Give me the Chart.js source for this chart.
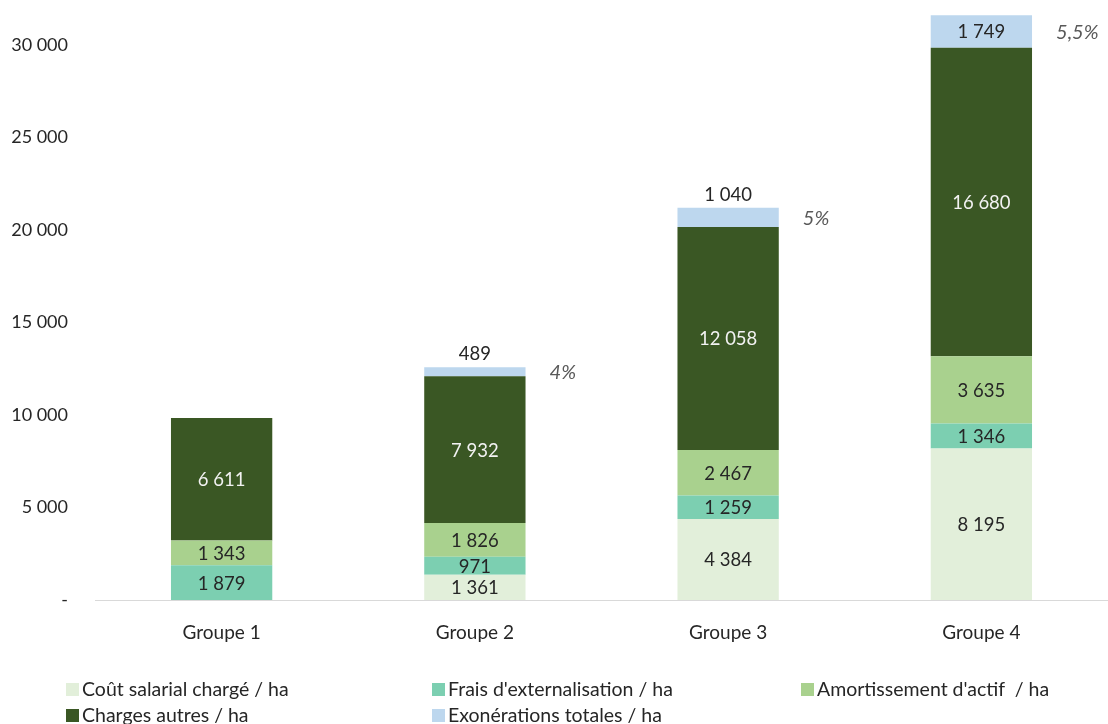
<!DOCTYPE html>
<html>
<head>
<meta charset="utf-8">
<script src="https://cdn.jsdelivr.net/npm/chart.js@4.4.1/dist/chart.umd.min.js"></script>
<style>
  html, body { margin: 0; padding: 0; background: #fff; }
  #wrap { position: relative; width: 1108px; height: 724px; }
  #legend { position: absolute; left: 0; top: 0; width: 1108px; height: 724px; pointer-events: none;
    font-family: Lato, "Open Sans", sans-serif; font-size: 19.5px; color: #262626; }
  .item { position: absolute; display: flex; align-items: center; white-space: pre; line-height: 24px; }
  .sq { width: 13px; height: 13px; margin-right: 3px; }
</style>
</head>
<body>
<div id="wrap">
  <canvas id="myChart" width="1108" height="724"></canvas>
  <div id="legend"></div>
</div>
<script>
const categories = ['Groupe 1', 'Groupe 2', 'Groupe 3', 'Groupe 4'];
const seriesNames = ['Coût salarial chargé / ha', "Frais d'externalisation / ha", "Amortissement d'actif  / ha", 'Charges autres / ha', 'Exonérations totales / ha'];
const coutSalarial = [0, 1361, 4384, 8195];
const fraisExternalisation = [1879, 971, 1259, 1346];
const amortissement = [1343, 1826, 2467, 3635];
const chargesAutres = [6611, 7932, 12058, 16680];
const exonerations = [0, 489, 1040, 1749];
const exonerationPct = [null, '4%', '5%', '5,5%'];
const yTicks = [0, 5000, 10000, 15000, 20000, 25000, 30000];

const colors = ['#e2efda', '#7ccfb1', '#a9d18e', '#3a5724', '#bdd7ee'];
const labelColors = ['#262626', '#262626', '#262626', '#f2f2f2', '#262626'];
const FONT = 'Lato, "Open Sans", sans-serif';

const fmt = (v) => String(Math.round(v)).replace(/\B(?=(\d{3})+(?!\d))/g, ' ');

const allSeries = [coutSalarial, fraisExternalisation, amortissement, chargesAutres, exonerations];

// value labels inside the segments, exoneration % to the right
const labelPlugin = {
  id: 'barLabels',
  afterDatasetsDraw(chart) {
    const ctx = chart.ctx;
    ctx.save();
    ctx.textAlign = 'center';
    ctx.textBaseline = 'middle';
    chart.data.datasets.forEach((ds, i) => {
      const meta = chart.getDatasetMeta(i);
      meta.data.forEach((bar, j) => {
        const v = ds.data[j];
        if (!v) return;
        const h = Math.abs(bar.base - bar.y);
        let y = (bar.y + bar.base) / 2;
        ctx.fillStyle = labelColors[i];
        if (i === allSeries.length - 1 && h < 25) {
          y = bar.y - 14;
          ctx.fillStyle = '#262626';
        }
        ctx.font = '18.5px ' + FONT;
        ctx.fillText(fmt(v), bar.x, y + 1);
        if (i === allSeries.length - 1 && exonerationPct[j]) {
          ctx.font = 'italic 20px ' + FONT;
          ctx.fillStyle = '#595959';
          ctx.textAlign = 'left';
          ctx.fillText(exonerationPct[j], bar.x + bar.width / 2 + 24, (bar.y + bar.base) / 2 + 1);
          ctx.textAlign = 'center';
        }
      });
    });
    ctx.restore();
  }
};

new Chart(document.getElementById('myChart'), {
  type: 'bar',
  data: {
    labels: categories,
    datasets: allSeries.map((d, i) => ({
      label: seriesNames[i],
      data: d,
      backgroundColor: colors[i],
      borderWidth: 0,
      categoryPercentage: 1,
      barPercentage: 0.4
    }))
  },
  options: {
    responsive: false,
    animation: false,
    layout: { padding: { top: 8, right: -4, left: 0, bottom: 0 } },
    plugins: { legend: { display: false }, tooltip: { enabled: false } },
    scales: {
      x: {
        stacked: true,
        grid: { display: false },
        border: { color: '#d9d9d9', width: 1 },
        ticks: { color: '#262626', font: { family: FONT, size: 19 }, padding: 13 },
        afterFit: (s) => { s.height = 124; }
      },
      y: {
        stacked: true,
        min: 0,
        max: 32000,
        grid: { display: false },
        border: { display: false },
        afterBuildTicks: (s) => { s.ticks = yTicks.map((v) => ({ value: v })); },
        ticks: {
          color: '#262626',
          font: { family: FONT, size: 18 },
          padding: 19,
          callback: (v) => (v === 0 ? '-' : fmt(v))
        },
        afterFit: (s) => { s.width = 95; s.paddingTop = 0; s.paddingBottom = 0; }
      }
    }
  },
  plugins: [labelPlugin]
});

const legendPos = [[66, 689], [432, 689], [801, 689], [66, 715], [432, 715]];
const legend = document.getElementById('legend');
seriesNames.forEach((name, i) => {
  const it = document.createElement('div');
  it.className = 'item';
  it.style.left = legendPos[i][0] + 'px';
  it.style.top = (legendPos[i][1] - 12) + 'px';
  const sq = document.createElement('span');
  sq.className = 'sq';
  sq.style.background = colors[i];
  const tx = document.createElement('span');
  tx.textContent = name;
  it.appendChild(sq);
  it.appendChild(tx);
  legend.appendChild(it);
});
</script>
</body>
</html>
